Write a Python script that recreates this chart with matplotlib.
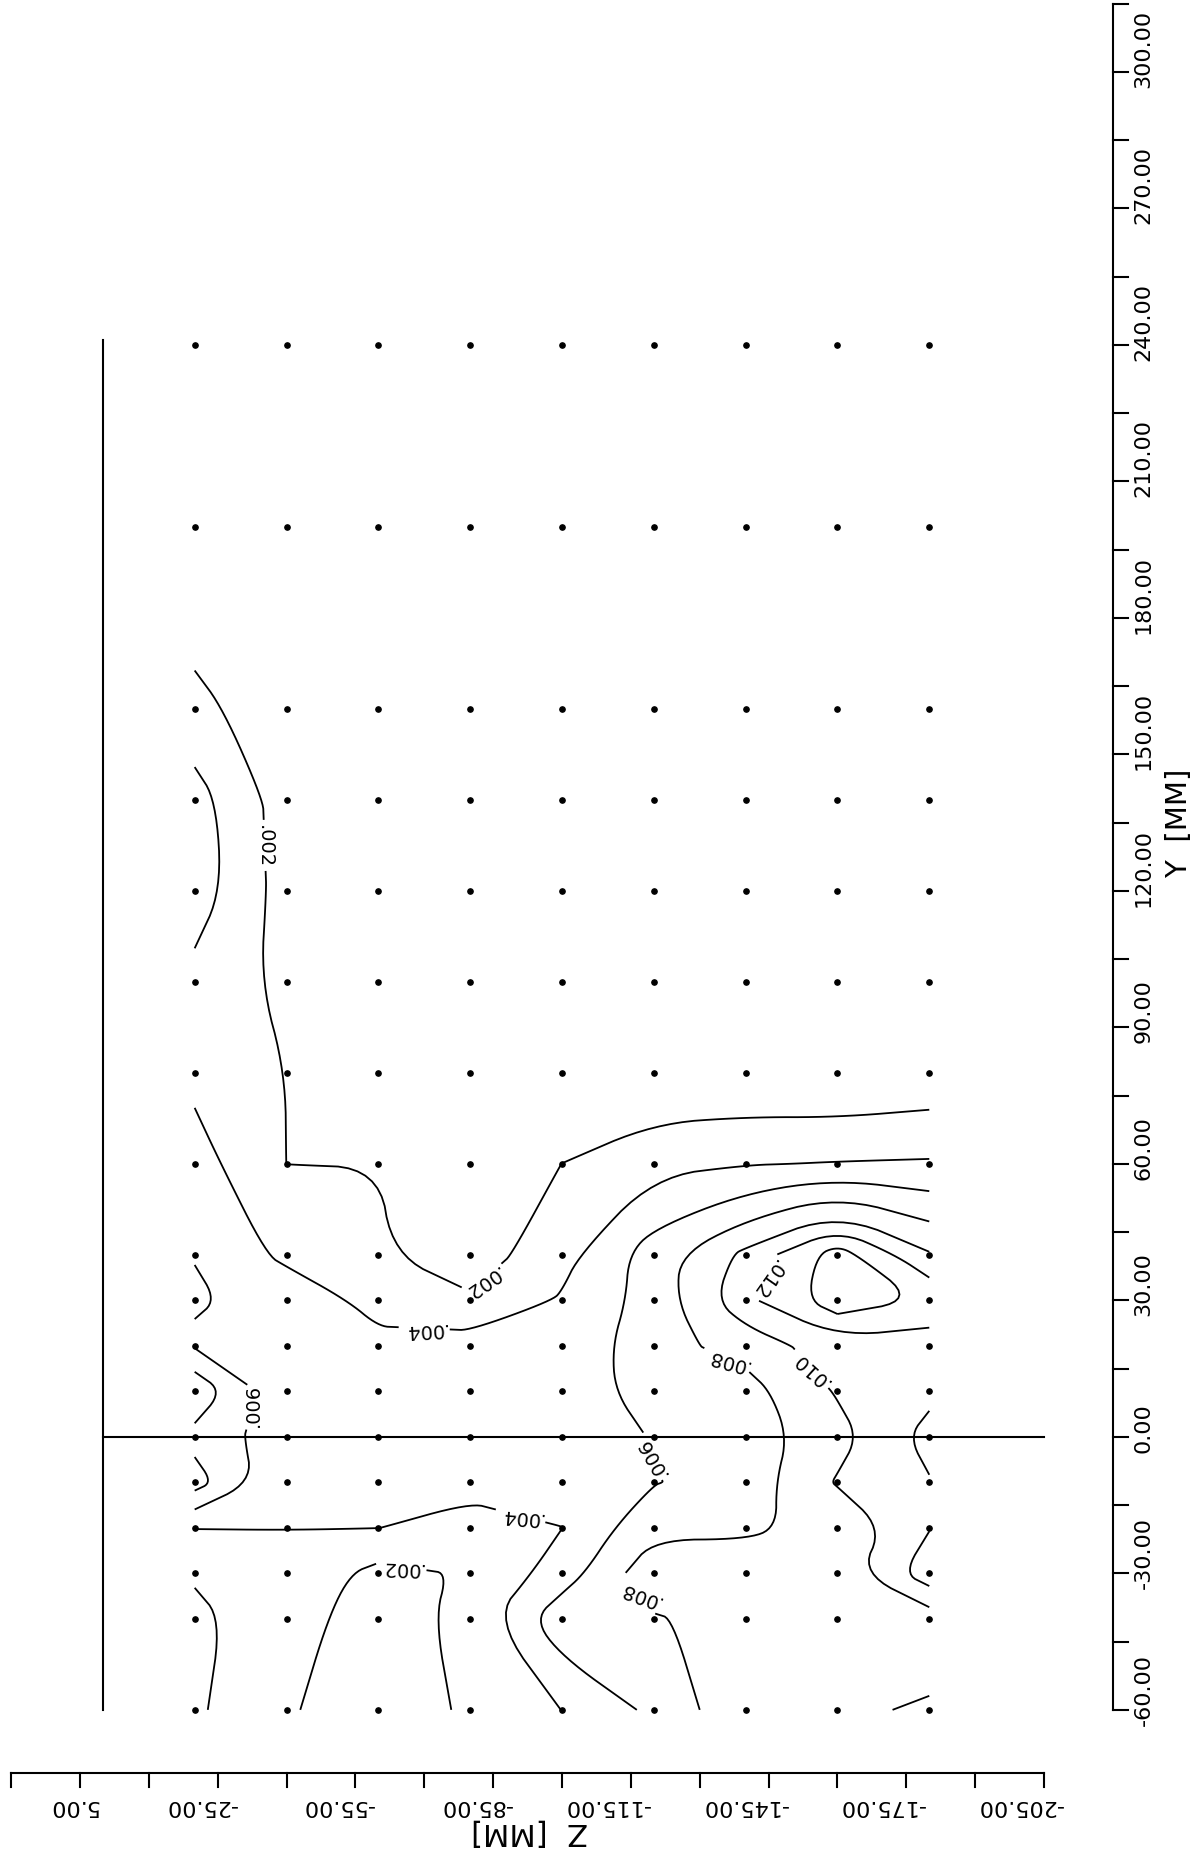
import numpy as np
import matplotlib
matplotlib.use("Agg")
import matplotlib.pyplot as plt
from matplotlib.path import Path

# measurement grid (mm)
z_cols = [-20, -40, -60, -80, -100, -120, -140, -160, -180]
y_rows = [-60, -40, -30, -20, -10, 0, 10, 20, 30, 40, 60, 80, 100, 120, 140, 160, 200, 240]

# values at the grid points, one list per Y row (Z order as z_cols)
row_m60 = [.00195, .0023, .0003, .00244, .00402, .00645, .00955, .0097, .0102]
row_m40 = [.00157, .00306, .0007, .0028, .0074, .0078, .0088, .0088, .0089]
row_m30 = [.0022, .0034, .0014, .0022, .0049, .0094, .0083, .0089, .0132]
row_m20 = [.00405, .00403, .00402, .00327, .00398, .0075, .0079, .0082, .0119]
row_m10 = [.00888, .0043, .0045, .0046, .0047, .0059, .0069, .0102, .01184]
row_0 = [.0073, .0049, .0047, .0051, .0049, .0061, .0070, .0092, .0128]
row_10 = [.00965, .00425, .0046, .0052, .0049, .0068, .0072, .0102, .0114]
row_20 = [.0058, .0045, .0046, .0049, .00453, .0072, .0088, .0112, .0108]
row_30 = [.00614, .00554, .0032, .00226, .0042, .0068, .0115, .0152, .0138]
row_40 = [.00596, .00346, .0022, .00094, .0033, .0070, .0105, .0150, .0102]
row_60 = [.0048, .00199, .00199, .0008, .00201, .0035, .0039, .0041, .0042]
row_80 = [.0035, .00198, .0008, .0007, .0006, .0001, .0002, .0000, .0005]
row_100 = [.0033, .0015, .0010, .0008, .0007, .0006, .0006, .0006, .0005]
row_120 = [.0052, .0011, .0009, .0007, .0006, .0005, .0005, .0005, .0004]
row_140 = [.0049, .0010, .0008, .0006, .0005, .0005, .0005, .0004, .0004]
row_160 = [.0024, .0011, .0008, .0006, .0005, .0005, .0004, .0004, .0004]
row_200 = [.0005, .0006, .0005, .0004, .0005, .0004, .0004, .0003, .0003]
row_240 = [.0008, .0006, .0005, .0004, .0004, .0005, .0004, .0003, .0003]

levels = [0.002, 0.004, 0.006, 0.008, 0.010, 0.012, 0.014]

y_ticks = list(range(-60, 316, 15))
y_labels = list(range(-60, 301, 30))
z_ticks = list(range(20, -206, -15))
z_labels = list(range(5, -206, -30))

# contour label spots and their angles
label_pos = [(-35.7, 130), (-82.5, 34.5), (-70, 24), (-32.8, 7), (-91, -17.3),
             (-65, -28.4), (-117, -34.4), (-120.5, -4), (-136, 17),
             (-154.4, 15), (-144.7, 35)]
label_rot = [270, 215, 183, 90, 175, 178, 160, 120, 165, 138, 235]

V = np.array([row_m60, row_m40, row_m30, row_m20, row_m10, row_0, row_10,
              row_20, row_30, row_40, row_60, row_80, row_100, row_120,
              row_140, row_160, row_200, row_240])


def chaikin(pts, n=3):
    # round off the corners of a polyline, keeping its end points
    for _ in range(n):
        q = 0.75 * pts[:-1] + 0.25 * pts[1:]
        r = 0.25 * pts[:-1] + 0.75 * pts[1:]
        mid = np.empty((2 * len(q), 2))
        mid[0::2] = q
        mid[1::2] = r
        pts = np.vstack([pts[:1], mid, pts[-1:]])
    return pts


fig = plt.figure(figsize=(11.91, 18.56), dpi=100)
ax = fig.add_axes([0, 0, 1, 1])
ax.set_xlim(22.4, -237.0)
ax.set_ylim(-91.9, 316.0)
ax.axis("off")

# reference lines
ax.plot([0, 0], [-60, 241], color="k", lw=1.5)
ax.plot([0, -205], [0, 0], color="k", lw=1.5)

# measuring points
zz, yy = np.meshgrid(z_cols, y_rows)
ax.plot(zz.ravel(), yy.ravel(), "o", ms=3.8, color="k", ls="none")

cs = ax.contour(z_cols, y_rows, V, levels=levels, colors="k", linewidths=1.3)
texts = ax.clabel(cs, manual=label_pos, inline=True, inline_spacing=4,
                  fmt=lambda v: ("%.3f" % v)[1:], fontsize=14)
for t, r in zip(texts, label_rot):
    t.set_rotation(r)

# smooth the contour polylines
new_paths = []
for p in cs.get_paths():
    codes = p.codes
    if codes is None:
        codes = [Path.MOVETO] + [Path.LINETO] * (len(p.vertices) - 1)
    segs, cur = [], []
    for v, c in zip(p.vertices, codes):
        if c == Path.MOVETO:
            if cur:
                segs.append(cur)
            cur = [v]
        elif c == Path.CLOSEPOLY:
            cur.append(cur[0])
        else:
            cur.append(v)
    if cur:
        segs.append(cur)
    verts, kinds = [], []
    for s in segs:
        s = np.array(s, dtype=float)
        if len(s) > 2:
            s = chaikin(s)
        verts.extend(s)
        kinds.extend([Path.MOVETO] + [Path.LINETO] * (len(s) - 1))
    if verts:
        new_paths.append(Path(np.array(verts), kinds))
    else:
        new_paths.append(Path(np.empty((0, 2))))
cs.set_paths(new_paths)

# Y axis on the right
ya = -220
ax.plot([ya, ya], [-60, 315], color="k", lw=1.5)
for y in y_ticks:
    ax.plot([ya, ya - 3.2], [y, y], color="k", lw=1.5)
for y in y_labels:
    ax.text(-224.5, y - 3.3, "%.2f" % y, rotation=90, ha="left", va="bottom",
            fontsize=16)
ax.text(-234.3, 135, "Y  [MM]", rotation=90, ha="center", va="center", fontsize=21)

# Z axis at the bottom
za = -73.8
ax.plot([20, -205], [za, za], color="k", lw=1.5)
for z in z_ticks:
    ax.plot([z, z], [za, za - 3.1], color="k", lw=1.5)
for z in z_labels:
    ax.text(z - 4.1, -78.7, "%.2f" % z, rotation=180, ha="right", va="top",
            fontsize=16)
ax.text(-93, -86.6, "Z  [MM]", rotation=180, ha="center", va="center", fontsize=22)

fig.savefig("out.png", dpi=100)
